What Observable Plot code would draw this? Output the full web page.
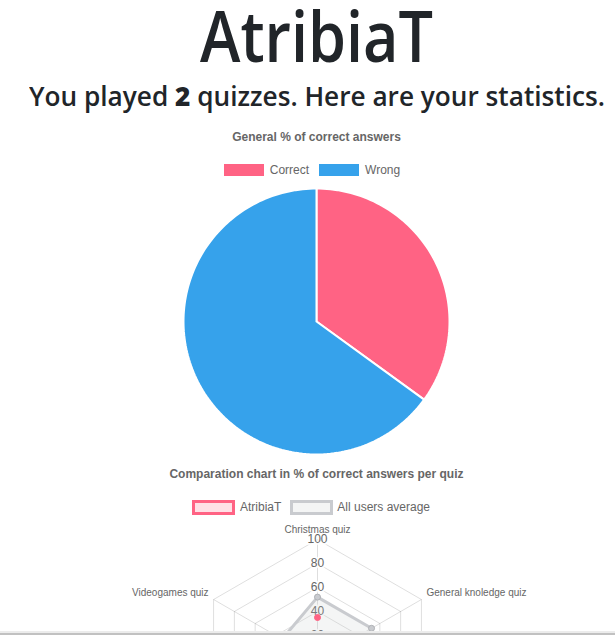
<!DOCTYPE html>
<html>
<head>
<meta charset="utf-8">
<script src="https://cdn.jsdelivr.net/npm/d3@7"></script>
<script src="https://cdn.jsdelivr.net/npm/@observablehq/plot@0.6"></script>
<style>
html, body { margin: 0; padding: 0; background: #fff; }
body { width: 615px; height: 635px; overflow: hidden; position: relative; }
.abs { position: absolute; white-space: nowrap; }
.head { font-family: "Open Sans", "Noto Sans", sans-serif; color: #212529; font-weight: 600; line-height: 1.1; }
.head b { font-weight: 800; }
.ctext { font-family: "Liberation Sans", Arial, sans-serif; color: #666; font-size: 12px; line-height: 12px; }
.ctitle { left: 0; width: 633px; text-align: center; font-weight: bold; }
.legend { left: 0; width: 634px; display: flex; justify-content: center; align-items: center; height: 16px; }
.item { display: flex; align-items: center; margin-right: 10px; }
.item .lbl { margin-left: 6px; }
.scrollbar { position: absolute; left: 0; top: 631px; width: 615px; height: 2px; background: #ececec; border-bottom: 2px solid #c1c1c1; }
</style>
</head>
<body>
<div id="h1" class="abs head" style="font-size:70px;line-height:0.9">AtribiaT</div>
<div id="h3" class="abs head" style="font-size:27px">You played <b>2</b> quizzes. Here are your statistics.</div>

<div id="pieTitle" class="abs ctext ctitle">General % of correct answers</div>
<div id="pieLegend" class="abs ctext legend"></div>
<div id="pie" class="abs" style="left:0;top:186px"></div>

<div id="radarTitle" class="abs ctext ctitle">Comparation chart in % of correct answers per quiz</div>
<div id="radarLegend" class="abs ctext legend"></div>
<div id="radar" class="abs" style="left:0;top:520px"></div>

<div class="scrollbar"></div>

<script>
// ---------- data ----------
const pieLabels = ["Correct", "Wrong"];
const pieValues = [35, 65];
const pieColors = ["rgb(255, 99, 132)", "rgb(54, 162, 235)"];

const quizLabels = ["Christmas quiz", "General knoledge quiz", "Movies quiz", "Sports quiz", "History quiz", "Videogames quiz"];
const seriesNames = ["AtribiaT", "All users average"];
const atribiatValues = [35, null, null, 35, null, null];
const averageValues = [52, 52, 45, 40, 38, 34];
const seriesBorder = ["rgb(255, 99, 132)", "rgb(201, 203, 207)"];
const seriesFill = ["rgba(255, 99, 132, 0.2)", "rgba(201, 203, 207, 0.2)"];
const radarTicks = [20, 40, 60, 80, 100];

// ---------- headings ----------
function placeText(el, baseline, left, right) {
  el.style.top = "0px";
  el.style.left = "0px";
  const m = document.createElement("span");
  m.style.cssText = "display:inline-block;width:0;height:0;vertical-align:baseline";
  el.appendChild(m);
  const b = m.getBoundingClientRect().top;
  m.remove();
  el.style.top = (baseline - b) + "px";
  if (left != null) {
    const w = el.getBoundingClientRect().width;
    el.style.left = left + "px";
    el.style.transformOrigin = "0 0";
    el.style.transform = `scaleX(${(right - left) / w})`;
  }
}
placeText(document.getElementById("h1"), 62, 200, 433);
placeText(document.getElementById("h3"), 106, 29, 605);
placeText(document.getElementById("pieTitle"), 141);
placeText(document.getElementById("radarTitle"), 477.5);

// ---------- legends ----------
function legend(el, names, fills, borders, bw) {
  names.forEach((n, i) => {
    const it = document.createElement("div");
    it.className = "item";
    const box = document.createElement("div");
    if (bw > 1) {
      box.style.cssText = `width:${40 - bw}px;height:${12 - bw}px;background:${fills[i]};border:${bw}px solid ${borders[i]};margin:0 ${-bw / 2}px`;
    } else {
      box.style.cssText = `box-sizing:border-box;width:40px;height:12px;background:${fills[i]};border:1px solid ${borders[i]}`;
    }
    const t = document.createElement("span");
    t.className = "lbl";
    t.textContent = n;
    it.appendChild(box);
    it.appendChild(t);
    el.appendChild(it);
  });
}
const pieLeg = document.getElementById("pieLegend");
legend(pieLeg, pieLabels, pieColors, pieColors.map(c => c.replace("rgb", "rgba").replace(")", ", 0.6)")), 1);
pieLeg.style.top = (170 - 8) + "px";
const radLeg = document.getElementById("radarLegend");
legend(radLeg, seriesNames, seriesFill, seriesBorder, 3);
radLeg.style.top = (507 - 8) + "px";

// ---------- pie ----------
const arcs = d3.pie().sort(null).value(d => d.value)(pieLabels.map((l, i) => ({label: l, value: pieValues[i], color: pieColors[i]})));
const piePts = [];
arcs.forEach(a => {
  const n = Math.max(2, Math.ceil((a.endAngle - a.startAngle) / (2 * Math.PI) * 240));
  piePts.push({label: a.data.label, color: a.data.color, x: 0, y: 0});
  for (let k = 0; k <= n; k++) {
    const t = a.startAngle + (a.endAngle - a.startAngle) * k / n;
    piePts.push({label: a.data.label, color: a.data.color, x: Math.sin(t), y: Math.cos(t)});
  }
  piePts.push({label: a.data.label, color: a.data.color, x: 0, y: 0});
});
const pieChart = Plot.plot({
  width: 615, height: 272, margin: 0,
  style: {background: "transparent", overflow: "visible"},
  x: {domain: [-1, 1], range: [183, 449], axis: null},
  y: {domain: [-1, 1], range: [268, 2], axis: null},
  color: {type: "identity"},
  marks: [
    Plot.line(piePts, {x: "x", y: "y", z: "label", fill: "color", stroke: "#fff", strokeWidth: 2, curve: "linear", strokeLinejoin: "miter"})
  ]
});
document.getElementById("pie").appendChild(pieChart);

// ---------- radar ----------
const N = quizLabels.length;
const ang = i => 2 * Math.PI * i / N;
const polar = (v, i) => ({x: v * Math.sin(ang(i)), y: v * Math.cos(ang(i))});
const ringPts = radarTicks.flatMap(t => d3.range(N + 1).map(i => ({tick: t, ...polar(t, i % N)})));
const spokes = quizLabels.map((q, i) => ({q, ...polar(100, i)}));
const closed = vals => d3.range(N + 1).map(i => {
  const v = vals[i % N];
  return v == null ? {x: NaN, y: NaN} : polar(v, i % N);
});
const dotsOf = (vals, s) => vals.map((v, i) => v == null ? null : {s, ...polar(v, i)}).filter(d => d);
const labelPts = quizLabels.map((q, i) => ({q, i, ...polar(100, i)}));
const sinA = i => Math.sin(ang(i));
const cosA = i => Math.cos(ang(i));
const gridColor = "rgba(0,0,0,0.13)";

const radarChart = Plot.plot({
  width: 615, height: 280, margin: 0,
  style: {background: "transparent", overflow: "visible", fontFamily: "'Liberation Sans', Arial, sans-serif"},
  x: {domain: [-100, 100], range: [197, 437], axis: null},
  y: {domain: [-100, 100], range: [259, 19], axis: null},
  marks: [
    Plot.line(ringPts, {x: "x", y: "y", z: "tick", stroke: gridColor, strokeWidth: 1, curve: "linear"}),
    Plot.link(spokes, {x1: d => 0, y1: d => 0, x2: "x", y2: "y", stroke: gridColor, strokeWidth: 1}),
    Plot.text(radarTicks, {x: d => 0, y: d => d, text: d => String(d), fill: "#666", fontSize: 12, stroke: "white", strokeOpacity: 0.75, strokeWidth: 4, paintOrder: "stroke"}),
    Plot.line(closed(averageValues), {x: "x", y: "y", fill: seriesFill[1], stroke: seriesBorder[1], strokeWidth: 3, curve: "linear"}),
    Plot.line(closed(atribiatValues), {x: "x", y: "y", fill: seriesFill[0], stroke: seriesBorder[0], strokeWidth: 3, curve: "linear"}),
    Plot.dot(dotsOf(averageValues, 1), {x: "x", y: "y", r: 3, fill: seriesBorder[1], stroke: "#b0b2b6", strokeWidth: 1}),
    Plot.dot(dotsOf(atribiatValues, 0), {x: "x", y: "y", r: 3, fill: seriesBorder[0], stroke: seriesBorder[0], strokeWidth: 1}),
    Plot.text(labelPts.filter(d => Math.abs(sinA(d.i)) < 0.01 && cosA(d.i) > 0), {x: "x", y: "y", text: "q", fontSize: 10, fill: "#666", textAnchor: "middle", lineAnchor: "bottom", dy: -7}),
    Plot.text(labelPts.filter(d => Math.abs(sinA(d.i)) < 0.01 && cosA(d.i) < 0), {x: "x", y: "y", text: "q", fontSize: 10, fill: "#666", textAnchor: "middle", lineAnchor: "top", dy: 5}),
    Plot.text(labelPts.filter(d => sinA(d.i) >= 0.01), {x: "x", y: "y", text: "q", fontSize: 10, fill: "#666", textAnchor: "start", lineAnchor: "bottom", dx: 5, dy: -4}),
    Plot.text(labelPts.filter(d => sinA(d.i) <= -0.01), {x: "x", y: "y", text: "q", fontSize: 10, fill: "#666", textAnchor: "end", lineAnchor: "bottom", dx: -5, dy: -4})
  ]
});
document.getElementById("radar").appendChild(radarChart);
</script>
</body>
</html>
